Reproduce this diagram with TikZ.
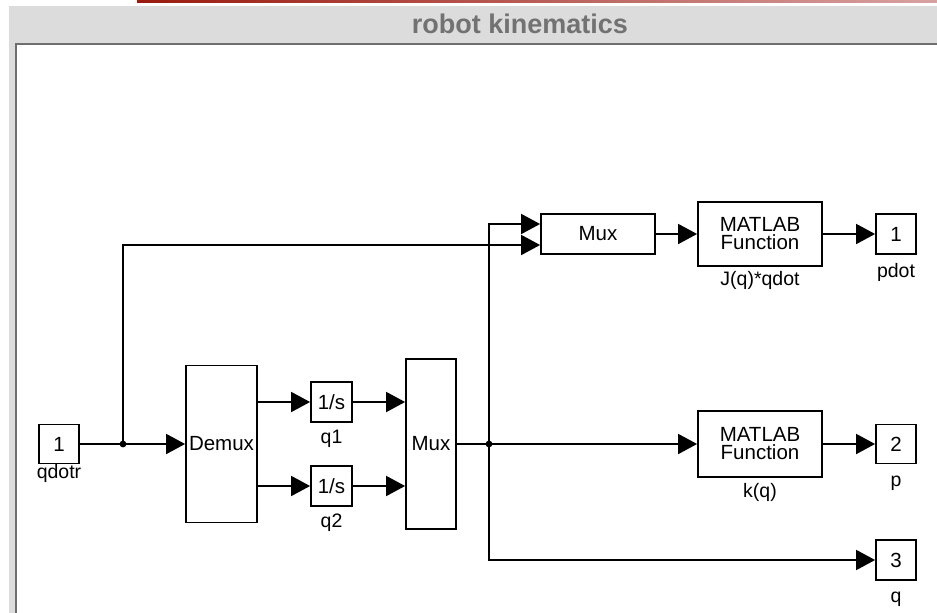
\documentclass[tikz,border=0pt]{standalone}
\usepackage{fontspec}
\setmainfont{Liberation Sans}
\usetikzlibrary{arrows.meta}
\definecolor{winGray}{HTML}{DCDCDC}
\definecolor{frameGray}{HTML}{6E6E6E}
\definecolor{titleGray}{HTML}{727272}
\definecolor{redA}{HTML}{9A1A0E}
\definecolor{redB}{HTML}{D8A2A2}
\begin{document}
\begin{tikzpicture}[x=1pt,y=-1pt,
  blk/.style={draw=black,line width=1.8pt,fill=white,inner sep=0pt,font=\fontsize{20.5}{18}\selectfont,align=center},
  lbl/.style={font=\fontsize{19.5}{19.5}\selectfont,inner sep=0pt,anchor=base},
  wire/.style={line width=1.8pt,-{Triangle[length=19pt,width=20pt]}},
  plain/.style={line width=1.8pt},
  dotmark/.style={fill=black}
]
\useasboundingbox (0,0) rectangle (937,613);
% window decoration
\shade[left color=redA,right color=redB] (137,0) rectangle (937,2.5);
\fill[winGray] (9,6) rectangle (937,613);
\fill[white] (17,45) rectangle (937,613);
\draw[frameGray,line width=2pt] (16,613) -- (16,44) -- (937,44);
\node[font=\fontsize{27}{27}\selectfont\bfseries,text=titleGray] (title) at (520,24) {robot kinematics};

% blocks
\node[blk,minimum width=40pt,minimum height=39pt] (in1) at (59,444) {1};
\node[blk,minimum width=71pt,minimum height=157pt] (demux) at (221.5,444) {Demux};
\node[blk,minimum width=41pt,minimum height=40pt] (int1) at (331.5,402) {1/s};
\node[blk,minimum width=41pt,minimum height=40pt] (int2) at (331.5,486) {1/s};
\node[blk,minimum width=50pt,minimum height=170pt] (mux2) at (431,444) {Mux};
\node[blk,minimum width=114pt,minimum height=40pt] (mux1) at (598,234) {Mux};
\node[blk,minimum width=124pt,minimum height=64pt] (fcn1) at (760,234) {MATLAB\\Function};
\node[blk,minimum width=124pt,minimum height=66pt] (fcn2) at (760,444) {MATLAB\\Function};
\node[blk,minimum width=40pt,minimum height=40pt] (out1) at (896,234) {1};
\node[blk,minimum width=40pt,minimum height=39pt] (out2) at (896,444) {2};
\node[blk,minimum width=40pt,minimum height=40pt] (out3) at (896,560) {3};

% labels
\node[lbl] (lin1) at (59,478) {qdotr};
\node[lbl] (lint1) at (331.5,443) {q1};
\node[lbl] (lint2) at (331.5,527) {q2};
\node[lbl] (lfcn1) at (760,285) {J(q)*qdot};
\node[lbl] (lfcn2) at (760,497) {k(q)};
\node[lbl] (lout1) at (896,277) {pdot};
\node[lbl] (lout2) at (896,486) {p};
\node[lbl] (lout3) at (896,602) {q};

% connectors
\coordinate (d1) at (123,444);
\coordinate (d2) at (489,444);
\draw[plain] (in1.east) -- (d1);
\draw[wire] (d1) -- (demux.west);
\draw[wire] (d1) |- ([yshift=-11pt]mux1.west);
\draw[wire] (demux.east |- int1) -- (int1.west);
\draw[wire] (demux.east |- int2) -- (int2.west);
\draw[wire] (int1.east) -- (mux2.west |- int1);
\draw[wire] (int2.east) -- (mux2.west |- int2);
\draw[plain] (mux2.east) -- (d2);
\draw[wire] (d2) -- (fcn2.west);
\draw[wire] (d2) |- ([yshift=10pt]mux1.west);
\draw[wire] (d2) |- (out3.west);
\draw[wire] (mux1.east) -- (fcn1.west);
\draw[wire] (fcn1.east) -- (out1.west);
\draw[wire] (fcn2.east) -- (out2.west);
\fill[dotmark] (d1) circle (3.4pt);
\fill[dotmark] (d2) circle (3.4pt);
\end{tikzpicture}
\end{document}
